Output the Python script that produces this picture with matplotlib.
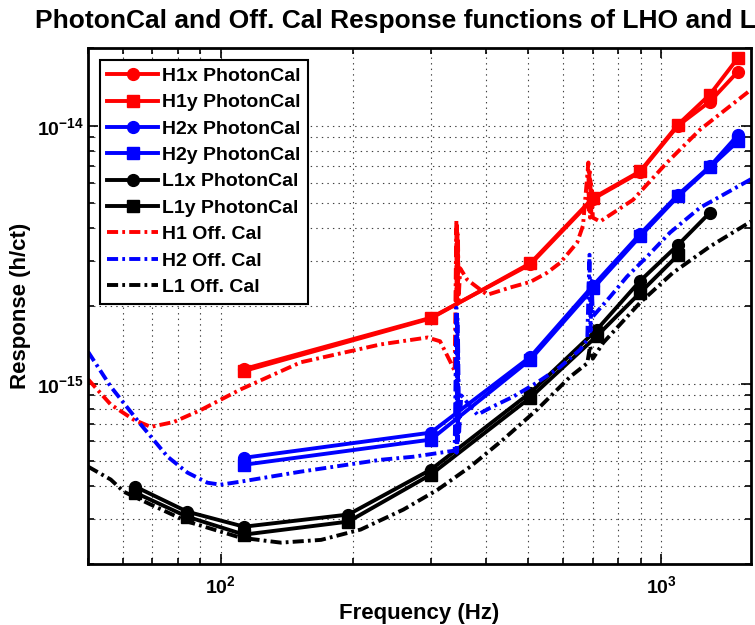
import numpy as np
import matplotlib
matplotlib.use("Agg")
import matplotlib.pyplot as plt
from matplotlib.ticker import NullFormatter

# PhotonCal measurement frequencies (Hz)
lho_freq = [113, 300, 505, 701, 896, 1093, 1291, 1495]
llo_freq = [64, 84, 113, 195, 300, 505, 715, 896, 1093, 1291]

# PhotonCal responses (h/ct)
h1x = [1.14e-15, 1.80e-15, 2.90e-15, 5.20e-15, 6.60e-15, 1.00e-14, 1.24e-14, 1.62e-14]
h1y = [1.12e-15, 1.79e-15, 2.93e-15, 5.25e-15, 6.65e-15, 1.01e-14, 1.32e-14, 1.83e-14]
h2x = [5.16e-16, 6.46e-16, 1.27e-15, 2.40e-15, 3.80e-15, 5.40e-15, 6.95e-15, 9.20e-15]
h2y = [4.85e-16, 6.07e-16, 1.24e-15, 2.34e-15, 3.72e-15, 5.32e-15, 6.90e-15, 8.70e-15]
l1x = [3.99e-16, 3.19e-16, 2.79e-16, 3.11e-16, 4.64e-16, 9.23e-16, 1.62e-15, 2.50e-15, 3.45e-15, 4.60e-15]
l1y = [3.78e-16, 3.05e-16, 2.60e-16, 2.92e-16, 4.44e-16, 8.83e-16, 1.53e-15, 2.25e-15, 3.15e-15]

# Official calibration model curves (resonances included)
h1_off_f = [50, 56.3, 63.5, 69.4, 78.2, 90.1, 111, 152, 231, 295, 315, 332, 340, 343,
            343.5, 344, 344.5, 345, 345.5, 346, 347, 350, 363, 403, 455, 505, 551, 590,
            645, 665, 684, 686, 688, 690, 692, 694, 697, 700, 727, 864, 1032, 1226, 1567, 1600]
h1_off_r = [1.04e-15, 8.3e-16, 7.25e-16, 6.8e-16, 7.1e-16, 7.9e-16, 9.5e-16, 1.21e-15,
            1.42e-15, 1.51e-15, 1.46e-15, 1.22e-15, 1.12e-15, 4.3e-15,
            2.0e-15, 4.1e-15, 2.1e-15, 3.9e-15, 2.2e-15, 3.6e-15, 2.1e-15, 2.8e-15, 2.53e-15,
            2.21e-15, 2.36e-15, 2.48e-15, 2.69e-15, 2.94e-15,
            3.52e-15, 4.1e-15, 7.2e-15, 4.6e-15, 6.8e-15, 4.4e-15, 6.2e-15, 4.6e-15, 5.6e-15,
            4.4e-15, 4.25e-15, 5.16e-15, 7.2e-15, 9.65e-15, 1.34e-14, 1.38e-14]

h2_off_f = [50, 56.3, 65.9, 75.8, 84.1, 93.4, 100, 111, 152, 231, 274, 327, 340, 343,
            343.5, 344, 344.5, 345, 345.5, 346, 348, 352, 383, 410, 462, 523, 590, 655,
            680, 688, 692, 696, 700, 766, 837, 930, 1048, 1226, 1361, 1600]
h2_off_r = [1.33e-15, 9.74e-16, 6.94e-16, 5.21e-16, 4.52e-16, 4.13e-16, 4.06e-16, 4.17e-16,
            4.56e-16, 5.07e-16, 5.21e-16, 5.45e-16, 5.5e-16, 1.97e-15,
            5.4e-16, 1.9e-15, 5.6e-16, 1.8e-15, 6.0e-16, 1.5e-15, 6.5e-16, 9.0e-16,
            7.58e-16, 8.07e-16, 8.91e-16, 1.01e-15, 1.16e-15, 1.355e-15,
            1.48e-15, 3.16e-15, 1.6e-15, 2.5e-15, 1.82e-15, 2.17e-15, 2.6e-15, 3.11e-15,
            3.85e-15, 4.81e-15, 5.31e-15, 6.2e-15]

l1_off_f = [50, 56.3, 60.3, 69.4, 84.1, 111, 137, 169, 208, 260, 311, 369, 438, 523,
            622, 680, 690, 700, 739, 896, 1064, 1291, 1600]
l1_off_r = [4.77e-16, 4.25e-16, 3.81e-16, 3.40e-16, 2.92e-16, 2.53e-16, 2.42e-16, 2.48e-16,
            2.72e-16, 3.25e-16, 3.88e-16, 4.77e-16, 6.07e-16, 7.93e-16, 1.064e-15,
            1.2e-15, 1.4e-15, 1.25e-15, 1.44e-15, 2.06e-15, 2.69e-15, 3.40e-15, 4.25e-15]

plt.rcParams['font.family'] = ['Liberation Sans', 'DejaVu Sans']
plt.rcParams['font.weight'] = 'bold'
plt.rcParams['mathtext.fontset'] = 'custom'
plt.rcParams['mathtext.rm'] = 'Liberation Sans:bold'
plt.rcParams['mathtext.bf'] = 'Liberation Sans:bold'
plt.rcParams['mathtext.default'] = 'bf'
plt.rcParams['lines.scale_dashes'] = False

fig = plt.figure(figsize=(7.55, 6.25), dpi=100)
ax = fig.add_axes([0.1166, 0.0976, 0.878, 0.8256])

lw = 2.8
ms = 8.5
dd = (8, 3, 2, 3)

ax.loglog(lho_freq, h1x, '-o', color='r', lw=lw, ms=ms, label='H1x PhotonCal')
ax.loglog(lho_freq, h1y, '-s', color='r', lw=lw, ms=ms, label='H1y PhotonCal')
ax.loglog(lho_freq, h2x, '-o', color='b', lw=lw, ms=ms, label='H2x PhotonCal')
ax.loglog(lho_freq, h2y, '-s', color='b', lw=lw, ms=ms, label='H2y PhotonCal')
ax.loglog(llo_freq, l1x, '-o', color='k', lw=lw, ms=ms, label='L1x PhotonCal')
ax.loglog(llo_freq[:len(l1y)], l1y, '-s', color='k', lw=lw, ms=ms, label='L1y PhotonCal')
ax.loglog(h1_off_f, h1_off_r, color='r', lw=lw, dashes=dd, label='H1 Off. Cal')
ax.loglog(h2_off_f, h2_off_r, color='b', lw=lw, dashes=dd, label='H2 Off. Cal')
ax.loglog(l1_off_f, l1_off_r, color='k', lw=lw, dashes=dd, label='L1 Off. Cal')

ax.set_xlim(50, 1600)
ax.set_ylim(2e-16, 2e-14)
ax.xaxis.set_minor_formatter(NullFormatter())
ax.yaxis.set_minor_formatter(NullFormatter())
ax.grid(True, which='both', color='0.25', linestyle=(0, (1, 3)), linewidth=0.8)
ax.tick_params(which='both', direction='in', top=True, right=True, labelsize=14, width=1.2)
ax.tick_params(which='major', length=7)
ax.tick_params(which='minor', length=4)
ax.tick_params(axis='x', which='major', pad=8)
ax.tick_params(axis='y', which='major', pad=3)
for s in ax.spines.values():
    s.set_linewidth(2)

ax.set_xlabel('Frequency (Hz)', fontsize=16, fontweight='bold', labelpad=4)
ax.set_ylabel('Response (h/ct)', fontsize=16, fontweight='bold', labelpad=4)
# title is wider than the figure and gets clipped on the right, as in the original
fig.text(35 / 755, 1 - 28 / 625, 'PhotonCal and Off. Cal Response functions of LHO and LLO',
         fontsize=19, fontweight='bold', ha='left', va='baseline')

leg = ax.legend(loc='upper left', fontsize=14, handlelength=2.6, labelspacing=0.45,
                handletextpad=0.2, borderpad=0.4, borderaxespad=0.6, fancybox=False,
                framealpha=1, edgecolor='k')
leg.get_frame().set_linewidth(1.5)

fig.savefig('out.png', dpi=100)
